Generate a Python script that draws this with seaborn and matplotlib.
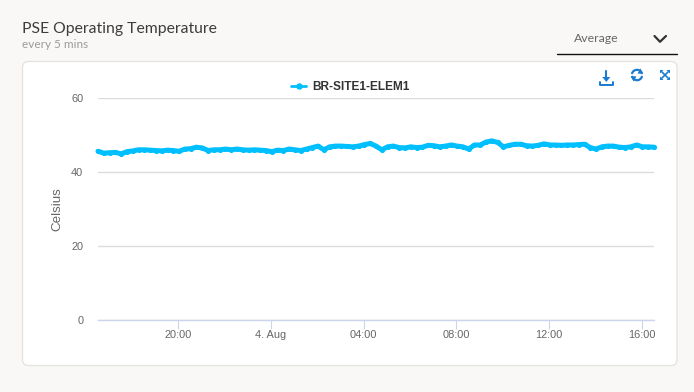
import numpy as np
import pandas as pd
import seaborn as sns
from matplotlib import pyplot as plt
from matplotlib.lines import Line2D
from matplotlib.patches import FancyBboxPatch, Polygon

# Values, one every 15 mins
start_time = "2021-08-03 16:32"
series_name = "BR-SITE1-ELEM1"
temps = [45.5, 45.0, 45.1, 45.2, 44.8, 45.4, 45.6, 45.9, 45.9, 45.8, 45.7, 45.6,
         45.8, 45.7, 45.5, 46.1, 46.2, 46.6, 46.4, 45.7, 45.9, 45.9, 46.1, 45.9,
         46.1, 45.9, 45.8, 45.9, 45.8, 45.7, 45.4, 45.8, 45.7, 46.1, 45.9, 45.7,
         46.1, 46.5, 46.9, 45.9, 46.7, 46.9, 46.9, 46.8, 46.7, 46.9, 47.3, 47.6,
         46.9, 45.9, 46.7, 46.9, 46.5, 46.4, 46.7, 46.5, 46.6, 47.1, 47.0, 46.7,
         46.9, 47.2, 46.9, 46.7, 46.1, 47.2, 47.2, 48.0, 48.3, 47.9, 46.7, 47.1,
         47.4, 47.4, 47.0, 46.9, 47.1, 47.5, 47.2, 47.2, 47.1, 47.2, 47.2, 47.3,
         47.4, 46.5, 46.1, 46.7, 46.9, 46.9, 46.6, 46.5, 46.7, 47.2, 46.7, 46.7, 46.6]
y_ticks = [0, 20, 40, 60]
x_ticks = ["2021-08-03 20:00", "2021-08-04 00:00", "2021-08-04 04:00",
           "2021-08-04 08:00", "2021-08-04 12:00", "2021-08-04 16:00"]
x_labels = ["20:00", "4. Aug", "04:00", "08:00", "12:00", "16:00"]

LINE = "#00bfff"
BLUE = "#1a7bd0"
W, H = 694, 392

df = pd.DataFrame({"time": pd.date_range(start_time, periods=len(temps), freq="15min"),
                   "temp": temps})

sns.set_style("white")
plt.rcParams["font.family"] = ["Liberation Sans", "DejaVu Sans"]

fig = plt.figure(figsize=(W / 100, H / 100), dpi=100, facecolor="#f9f8f6")

# Pixel-space layer for the card, header and toolbar icons
bg = fig.add_axes([0, 0, 1, 1], zorder=0)
bg.set_xlim(0, W)
bg.set_ylim(H, 0)
bg.axis("off")
bg.add_patch(FancyBboxPatch((22.5, 61.5), 654.5, 304, boxstyle="round,pad=0,rounding_size=6",
                            fc="white", ec="#e4e2de", lw=0.9))
bg.text(22, 33, "PSE Operating Temperature", family="Lato", fontsize=11.35, color="#3c3c3c")
bg.text(22, 48, "every 5 mins", family="Lato", fontsize=8.5, color="#9b9b9b")
bg.text(573.5, 38, "Average", family="Lato", fontsize=8.8, color="#666666", va="center")
bg.plot([557, 677], [54, 54], color="#111111", lw=1.0)
bg.plot([654.5, 660, 666], [36, 41.8, 36], color="#333333", lw=1.6)

# Download icon
bg.plot([606.3, 606.3], [70.5, 79], color=BLUE, lw=1.5)
bg.add_patch(Polygon([[602.3, 77], [610.3, 77], [606.3, 82]], fc=BLUE, ec="none"))
bg.plot([600.5, 600.5, 612.8, 612.8], [81.5, 84.5, 84.5, 81.5], color=BLUE, lw=1.4)

# Refresh icon
for a, b, tip in [(200, 340, [[640.5, 68.5], [643, 74], [637.5, 73.5]]),
                  (20, 160, [[633.5, 81.5], [631, 76], [636.5, 76.5]])]:
    t = np.radians(np.linspace(a, b, 20))
    bg.plot(637 + 5.2 * np.cos(t), 75 + 5.2 * np.sin(t), color=BLUE, lw=1.6)
    bg.add_patch(Polygon(tip, fc=BLUE, ec="none"))

# Expand icon
cx, cy = 665, 75
bg.plot([cx - 3, cx + 3], [cy - 3, cy + 3], color=BLUE, lw=1.2)
bg.plot([cx - 3, cx + 3], [cy + 3, cy - 3], color=BLUE, lw=1.2)
for sx in (-1, 1):
    for sy in (-1, 1):
        bg.add_patch(Polygon([[cx + sx * 5, cy + sy * 5], [cx + sx * 1.5, cy + sy * 5],
                              [cx + sx * 5, cy + sy * 1.5]], fc=BLUE, ec="none"))

# Chart
ax = fig.add_axes([98 / W, 1 - 320 / H, 556 / W, 222.5 / H], zorder=1)
ax.patch.set_alpha(0)
sns.lineplot(data=df, x="time", y="temp", ax=ax, color=LINE, lw=3.6, marker="o", ms=3.7,
             mew=0, clip_on=False, zorder=3, legend=False)
ax.set_xlim(df["time"].iloc[0], df["time"].iloc[-1])
ax.set_ylim(0, 60)
sns.despine(ax=ax, left=True, top=True, right=True)
ax.spines["bottom"].set_color("#ccd6eb")
ax.spines["bottom"].set_linewidth(1)

ax.set_yticks(y_ticks)
ax.set_xticks(pd.to_datetime(x_ticks))
ax.set_xticklabels(x_labels)
ax.grid(axis="y", color="#dcdcdc", lw=1)
ax.grid(axis="x", visible=False)
ax.tick_params(axis="x", length=6.7, width=0.8, color="#ccd6eb", pad=0.8,
               labelsize=7.9, labelcolor="#666666", bottom=True)
ax.tick_params(axis="y", length=0, pad=10.5, labelsize=7.9, labelcolor="#666666")
ax.set_xlabel("")
ax.set_ylabel("Celsius", fontsize=9.6, color="#666666", labelpad=5.5)

handle = Line2D([], [], color=LINE, lw=2, marker="o", ms=4.6, mew=0)
ax.legend([handle], [series_name], loc="center", bbox_to_anchor=(350.5 / W, 1 - 87.5 / H),
          bbox_transform=fig.transFigure, frameon=False, handlelength=1.25, handletextpad=0.55,
          prop={"family": "Liberation Sans", "weight": "bold", "size": 8.6},
          labelcolor="#333333", borderpad=0)

plt.savefig("out.png", dpi=100, facecolor=fig.get_facecolor())
